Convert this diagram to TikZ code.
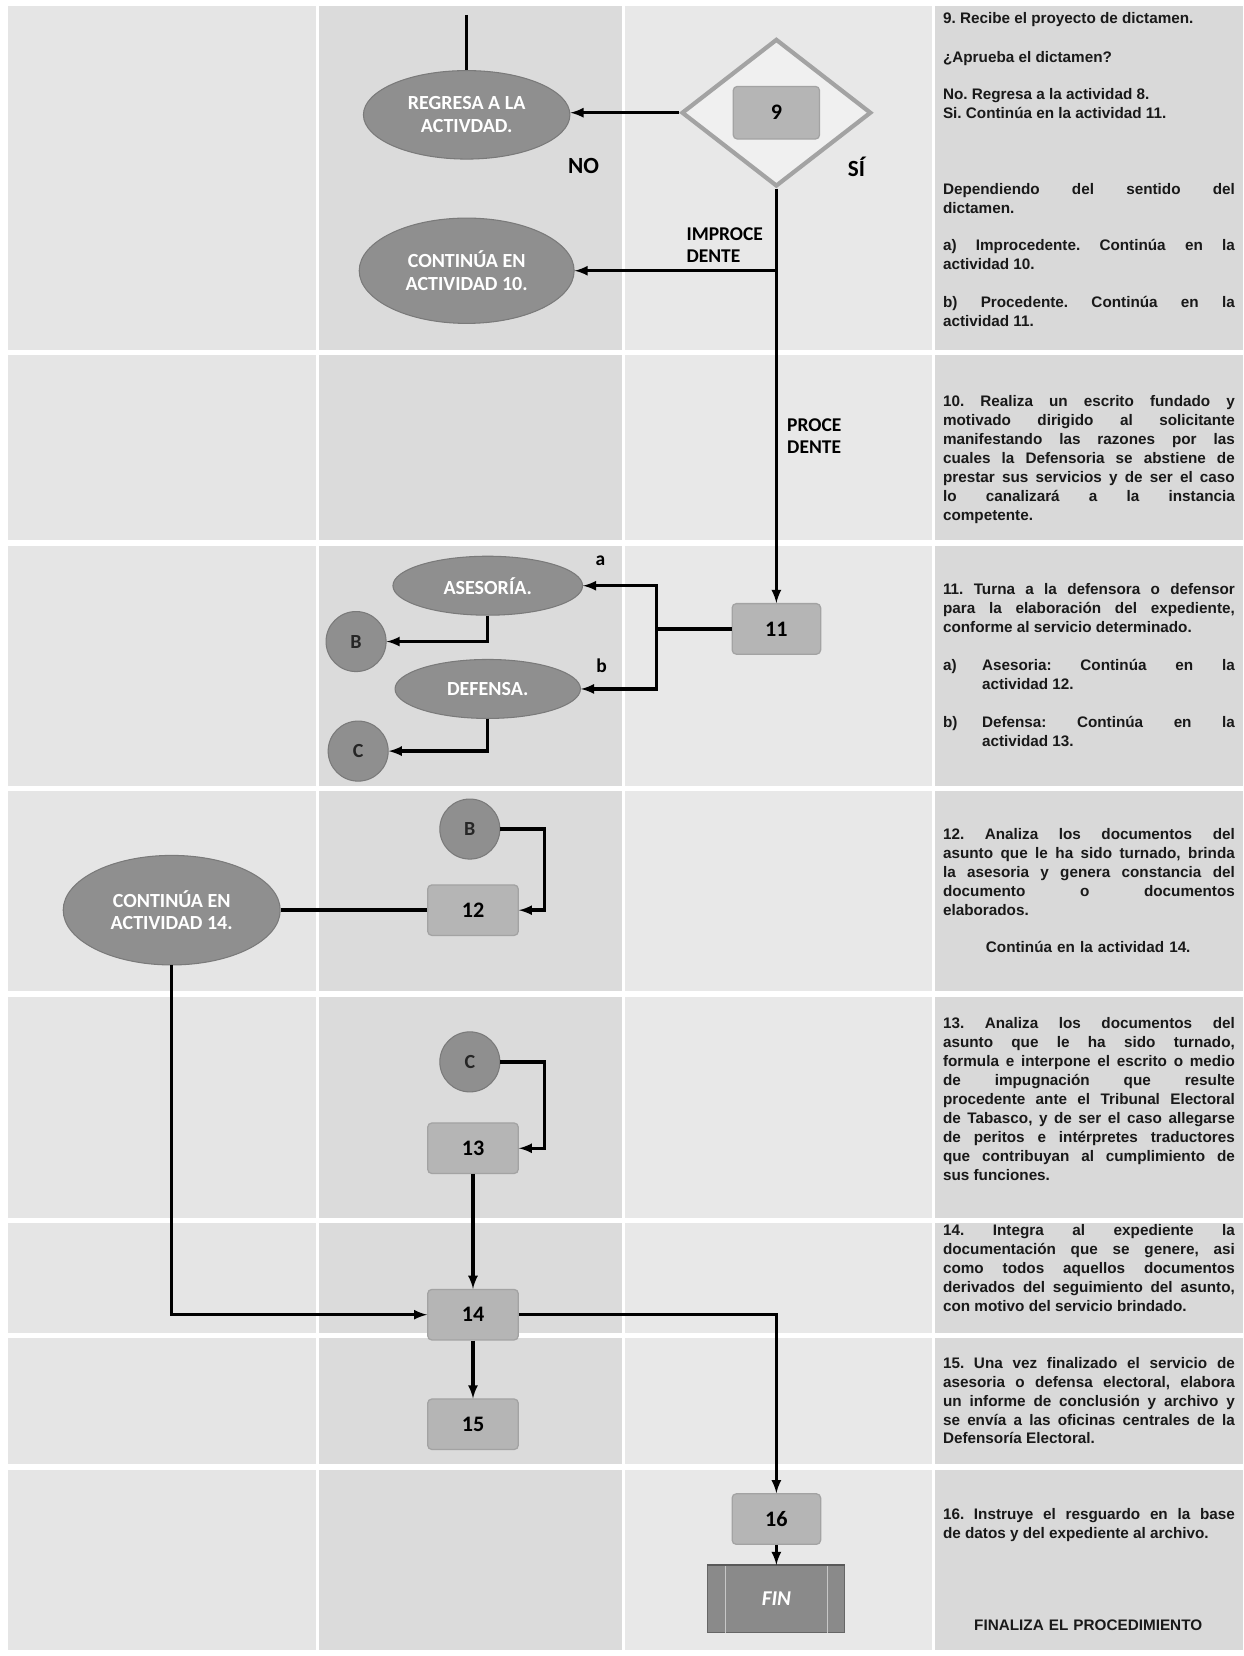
\documentclass[tikz,border=0pt]{standalone}
\usepackage{fontspec}
\setmainfont{Liberation Sans}
\newfontfamily\calib{Carlito}
\usetikzlibrary{shapes.geometric}

\begin{document}
\begin{tikzpicture}[x=1pt,y=-1pt,>=latex,
	act/.style={draw=black!36,line width=1.2pt,fill=black!29,rounded corners=4pt,minimum width=84pt,minimum height=48pt,font=\calib\bfseries\fontsize{21}{21}\selectfont},
	oval/.style={ellipse,draw=black!52,line width=1pt,fill=black!44,text=white,align=center,inner sep=0pt,font=\calib\bfseries\fontsize{19}{21.5}\selectfont},
	conn/.style={circle,draw=black!52,line width=1pt,fill=black!44,minimum size=57pt,inner sep=0pt,font=\calib\bfseries\fontsize{19}{19}\selectfont,text=black!85},
	flow/.style={line width=3.2pt},
	tag/.style={font=\calib\bfseries\fontsize{18.5}{21}\selectfont,align=left},
	desc/.style={anchor=north west,text width=277pt,align=justify,inner sep=0pt,text=black!90,font=\bfseries\fontsize{14.5}{18}\selectfont,
		execute at begin node={\tolerance=10000\relax\hyphenpenalty=10000\relax\frenchspacing}}]
	\useasboundingbox (0,0) rectangle (1180,1572);
	\fill[white] (0,0) rectangle (1180,1572);
	\foreach \ya/\yb in {6/332,337/513,518/746,751/941,946/1156,1161/1265,1270/1390,1395/1566}{
		\fill[black!10] (8,\ya) rectangle (300,\yb);
		\fill[black!14] (303,\ya) rectangle (590,\yb);
		\fill[black!9] (593,\ya) rectangle (885,\yb);
		\fill[black!15] (888,\ya) rectangle (1180,\yb);
	}
	\node[oval,minimum width=196pt,minimum height=84pt] (regresa) at (443,109) {REGRESA A LA\\ACTIVDAD.};
	\node[diamond,draw=black!36,line width=4pt,fill=black!6,minimum width=180pt,minimum height=140pt,inner sep=0pt] (dec) at (737,107) {};
	\node[act,minimum width=82pt,minimum height=50pt] (a9) at (737,107) {9};
	\coordinate (entry) at (443,14);
	\draw[flow] (entry) -- (regresa.north);
	\draw[flow,->] (dec.west) -- (dec.west -| regresa.east);
	\node[tag,font=\calib\bfseries\fontsize{22}{22}\selectfont] (no) at (554,158) {NO};
	\node[tag,font=\calib\bfseries\fontsize{22}{22}\selectfont] (si) at (813,158) {SÍ};
	\node[oval,minimum width=204pt,minimum height=100pt] (cont10) at (443,257) {CONTINÚA EN\\ACTIVIDAD 10.};
	\node[act] (a11) at (737,597) {11};
	\draw[flow,->] (dec.south) -- (a11.north);
	\draw[flow,->] (dec.south |- cont10.east) -- (cont10.east);
	\node[tag] (improc) at (688,233) {IMPROCE\\DENTE};
	\node[tag] (proc) at (773,414) {PROCE\\DENTE};

	\node[oval,minimum width=180pt,minimum height=56pt] (ases) at (463,556) {ASESORÍA.};
	\node[oval,minimum width=176pt,minimum height=56pt] (defe) at (463,654) {DEFENSA.};
	\coordinate (fork) at (623,597);
	\draw[flow] (a11.west) -- (fork);
	\draw[flow,->] (fork) |- (ases.east);
	\draw[flow,->] (fork) |- (defe.east);
	\node[tag] (la) at (570,532) {a};
	\node[tag] (lb) at (571,632) {b};
	\node[conn] (b1) at (338,609) {B};
	\node[conn] (c1) at (340,713) {C};
	\draw[flow,->] (ases.south) |- (b1.east);
	\draw[flow,->] (defe.south) |- (c1.east);

	\node[conn] (b2) at (446,787) {B};
	\node[act,minimum width=86pt] (a12) at (449,864) {12};
	\draw[flow,->] (b2.east) -- ++(42,0) |- (a12.east);
	\node[oval,minimum width=206pt,minimum height=104pt] (cont14) at (163,864) {CONTINÚA EN\\ACTIVIDAD 14.};
	\draw[flow] (a12.west) -- (cont14.east);

	\node[conn] (c2) at (446,1008) {C};
	\node[act,minimum width=86pt] (a13) at (449,1090) {13};
	\draw[flow,->] (c2.east) -- ++(42,0) |- (a13.east);
	\node[act,minimum width=86pt] (a14) at (449,1248) {14};
	\draw[flow,->] (a13.south) -- (a14.north);
	\draw[flow,->] (cont14.south) |- (a14.west);
	\node[act,minimum width=86pt] (a15) at (449,1352) {15};
	\draw[flow,->] (a14.south) -- (a15.north);
	\node[act] (a16) at (737,1442) {16};
	\draw[flow,->] (a14.east) -| (a16.north);
	\node[draw=black!60,line width=1pt,fill=black!46,minimum width=130pt,minimum height=64pt,text=white,font=\calib\bfseries\itshape\fontsize{20}{20}\selectfont] (fin) at (737,1518) {FIN};
	\draw[black!22,line width=1.5pt] ([xshift=17pt]fin.north west) -- ([xshift=17pt]fin.south west);
	\draw[black!22,line width=1.5pt] ([xshift=-17pt]fin.north east) -- ([xshift=-17pt]fin.south east);
	\draw[black!65,line width=2pt] (fin.north west) -- (fin.north east);
	\draw[flow,->] (a16.south) -- (fin.north);

	\node[desc] (t9a) at (895,12) {9. Recibe el proyecto de dictamen.};
	\node[desc] (t9b) at (895,49) {¿Aprueba el dictamen?};
	\node[desc] (t9c) at (895,84) {No. Regresa a la actividad 8.\\Si. Continúa en la actividad 11.};
	\node[desc] (t9d) at (895,174) {Dependiendo del sentido del\linebreak dictamen.};
	\node[desc] (t9e) at (895,227) {a) Improcedente. Continúa en la\linebreak actividad 10.};
	\node[desc] (t9f) at (895,281) {b) Procedente. Continúa en la\linebreak actividad 11.};
	\node[desc] (t10) at (895,375) {10. Realiza un escrito fundado y\linebreak motivado dirigido al solicitante\linebreak manifestando las razones por las\linebreak cuales la Defensoria se abstiene de\linebreak prestar sus servicios y de ser el caso\linebreak lo canalizará a la instancia\linebreak competente.};
	\node[desc] (t11a) at (895,554) {11. Turna a la defensora o defensor\linebreak para la elaboración del expediente,\linebreak conforme al servicio determinado.};
	\node[desc,text width=30pt] (m11a) at (895,626) {a)};
	\node[desc,text width=240pt] (t11b) at (932,626) {Asesoria: Continúa en la\linebreak actividad 12.};
	\node[desc,text width=30pt] (m11b) at (895,680) {b)};
	\node[desc,text width=240pt] (t11c) at (932,680) {Defensa: Continúa en la\linebreak actividad 13.};
	\node[desc] (t12) at (895,786) {12. Analiza los documentos del\linebreak asunto que le ha sido turnado, brinda\linebreak la asesoria y genera constancia del\linebreak documento o documentos\linebreak elaborados.};
	\node[desc,anchor=center,align=center] (t12b) at (1033,899) {Continúa en la actividad 14.};
	\node[desc] (t13) at (895,966) {13. Analiza los documentos del\linebreak asunto que le ha sido turnado,\linebreak formula e interpone el escrito o medio\linebreak de impugnación que resulte\linebreak procedente ante el Tribunal Electoral\linebreak de Tabasco, y de ser el caso allegarse\linebreak de peritos e intérpretes traductores\linebreak que contribuyan al cumplimiento de\linebreak sus funciones.};
	\node[desc] (t14) at (895,1162) {14. Integra al expediente la\linebreak documentación que se genere, asi\linebreak como todos aquellos documentos\linebreak derivados del seguimiento del asunto,\linebreak con motivo del servicio brindado.};
	\node[desc] (t15) at (895,1288) {15. Una vez finalizado el servicio de\linebreak asesoria o defensa electoral, elabora\linebreak un informe de conclusión y archivo y\linebreak se envía a las oficinas centrales de la\linebreak Defensoría Electoral.};
	\node[desc] (t16) at (895,1432) {16. Instruye el resguardo en la base\linebreak de datos y del expediente al archivo.};
	\node[desc,anchor=center,align=center] (tfin) at (1033,1543) {FINALIZA EL PROCEDIMIENTO};
\end{tikzpicture}
\end{document}
